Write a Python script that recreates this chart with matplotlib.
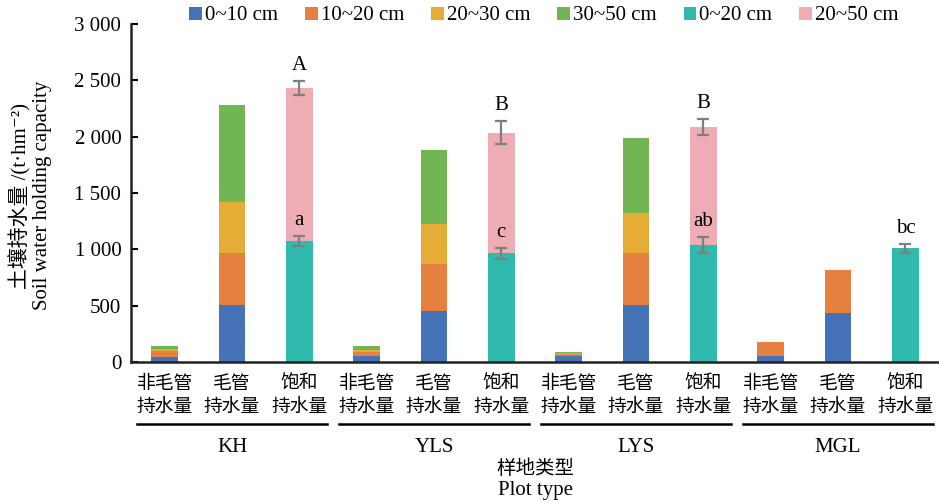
import matplotlib
matplotlib.use("Agg")
import matplotlib.pyplot as plt
from matplotlib.patches import Patch
from matplotlib.lines import Line2D
import numpy as np

plt.rcParams['font.family'] = ['Liberation Serif', 'Noto Sans CJK SC', 'DejaVu Serif']

# Plot groups and water-holding types
groups = ["KH", "YLS", "LYS", "MGL"]
types = ["非毛管\n持水量", "毛管\n持水量", "饱和\n持水量"]

# Non-capillary water holding capacity by soil layer (t/hm2)
noncap_0_10 = [45, 51, 51, 51]
noncap_10_20 = [55, 38, 17, 130]
noncap_20_30 = [12, 15, 9, 0]
noncap_30_50 = [28, 42, 15, 0]

# Capillary water holding capacity by soil layer
cap_0_10 = [504, 453, 504, 433]
cap_10_20 = [462, 418, 460, 388]
cap_20_30 = [454, 353, 358, 0]
cap_30_50 = [865, 658, 670, 0]

# Saturated water holding capacity, two layers, with errors
sat_0_20 = [1076, 964, 1038, 1008]
sat_20_50 = [1355, 1072, 1049, 0]
sat_0_20_err = [45, 48, 68, 38]
sat_total_err = [62, 100, 68, 0]
sat_0_20_letters = ["a", "c", "ab", "bc"]
sat_total_letters = ["A", "B", "B", ""]

layer_labels = ["0~10 cm", "10~20 cm", "20~30 cm", "30~50 cm", "0~20 cm", "20~50 cm"]
colors = ["#4673B8", "#E6803F", "#E5AC36", "#72B654", "#30B9AD", "#EEADB5"]

yticks = [0, 500, 1000, 1500, 2000, 2500, 3000]
ytick_labels = ["0", "500", "1 000", "1 500", "2 000", "2 500", "3 000"]

FS = 15

fig = plt.figure(figsize=(9.39, 5.03), dpi=100)
ax = fig.add_axes([131 / 939, 1 - 362 / 503, 1 - 131 / 939, 338 / 503])

width = 0.4
n = len(groups)
x_non = np.arange(n) * 3
x_cap = x_non + 1
x_sat = x_non + 2

# stacked layers for non-capillary and capillary bars
for xs, layers in [(x_non, [noncap_0_10, noncap_10_20, noncap_20_30, noncap_30_50]),
                   (x_cap, [cap_0_10, cap_10_20, cap_20_30, cap_30_50])]:
    bottom = np.zeros(n)
    for vals, c in zip(layers, colors[:4]):
        ax.bar(xs, vals, width, bottom=bottom, color=c, zorder=2)
        bottom += np.array(vals)

# saturated bars
sat_a = np.array(sat_0_20)
sat_b = np.array(sat_20_50)
ax.bar(x_sat, sat_a, width, color=colors[4], zorder=2)
ax.bar(x_sat, sat_b, width, bottom=sat_a, color=colors[5], zorder=2)

err_kw = dict(fmt="none", ecolor="#7F7F7F", elinewidth=1.6, capsize=4.5, capthick=1.6, zorder=3)
ax.errorbar(x_sat, sat_a, yerr=sat_0_20_err, **err_kw)
has_top = sat_b > 0
ax.errorbar(x_sat[has_top], (sat_a + sat_b)[has_top],
            yerr=np.array(sat_total_err)[has_top], **err_kw)

# significance letters
for i in range(n):
    ax.annotate(sat_0_20_letters[i], (x_sat[i], sat_a[i] + sat_0_20_err[i]),
                xytext=(0, 8), textcoords="offset points", ha="center",
                va="baseline", fontsize=FS)
    if sat_total_letters[i]:
        top = sat_a[i] + sat_b[i] + sat_total_err[i]
        ax.annotate(sat_total_letters[i], (x_sat[i], top),
                    xytext=(0, 8), textcoords="offset points", ha="center",
                    va="baseline", fontsize=FS)

ax.set_xlim(-0.5, 3 * n - 0.5)
ax.set_ylim(0, 3000)
ax.set_yticks(yticks)
ax.set_yticklabels(ytick_labels, fontsize=FS)
ax.tick_params(axis="y", direction="in", length=5, width=1.5, pad=7)

ax.set_xticks(np.arange(3 * n))
ax.set_xticklabels(types * n, fontsize=13.5, linespacing=1.1,
                   family=["Noto Sans CJK SC"])
ax.tick_params(axis="x", length=0, pad=8)

for s in ["top", "right"]:
    ax.spines[s].set_visible(False)
for s in ["left", "bottom"]:
    ax.spines[s].set_linewidth(1.8)
    ax.spines[s].set_color("#222222")

# group brackets and names under the tick labels
trans = ax.get_xaxis_transform()
for g, name in enumerate(groups):
    ax.add_line(Line2D([3 * g - 0.41, 3 * g + 2.41], [-0.183, -0.183],
                       transform=trans, color="black", lw=1.8, clip_on=False))
    ax.text(3 * g + 1, -0.252, name, transform=trans, ha="center",
            va="center", fontsize=FS)

fig.text(535 / 939, 1 - 468 / 503, "样地类型", ha="center", va="center",
         fontsize=14, family=["Noto Sans CJK SC"])
fig.text(535 / 939, 1 - 490 / 503, "Plot type", ha="center", va="center",
         fontsize=FS)

fig.text(20 / 939, 1 - 196 / 503, "土壤持水量 /(t·hm⁻²)", rotation=90,
         ha="center", va="center", fontsize=FS)
fig.text(43 / 939, 1 - 195 / 503, "Soil water holding capacity", rotation=90,
         ha="center", va="center", fontsize=FS)

handles = [Patch(facecolor=c) for c in colors]
fig.legend(handles, layer_labels, loc="center", bbox_to_anchor=(544 / 939, 1 - 16 / 503),
           ncol=6, frameon=False, fontsize=FS, handlelength=0.6, handleheight=0.6,
           handletextpad=0.15, columnspacing=1.3, borderaxespad=0)

fig.savefig("out.png", dpi=100)
